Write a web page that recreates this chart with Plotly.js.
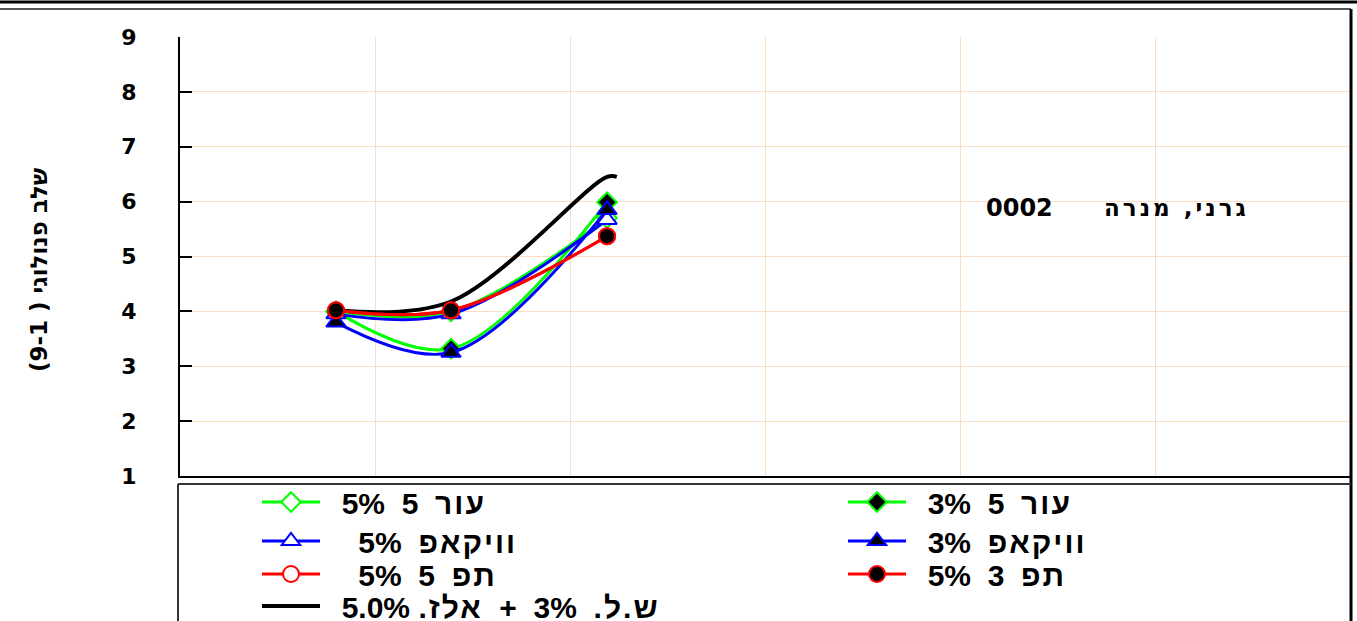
<!DOCTYPE html>
<html>
<head>
<meta charset="utf-8">
<script src="https://cdn.plot.ly/plotly-3.0.1.min.js"></script>
<style>
  html, body { margin: 0; padding: 0; background: #ffffff; }
  #chart { width: 1357px; height: 621px; }
</style>
</head>
<body>
<div id="chart"></div>
<script>
// ---- data ----
const samplingX = [0.8, 1.39, 2.19];
const blackX = [0.8, 1.39, 2.19, 2.24];

const green5 = [4.0, 4.0, 5.7];
const green3 = [4.0, 3.32, 5.99];
const blue5 = [3.95, 3.95, 5.67];
const blue3 = [3.8, 3.25, 5.85];
const red5 = [4.02, 4.02, 5.37];
const red3 = [4.02, 4.02, 5.37];
const blackSeries = [4.02, 4.18, 6.45, 6.45];

const yTicks = [1, 2, 3, 4, 5, 6, 7, 8, 9];

const NB = '\u00A0';
const heb = w => '<span style="letter-spacing:2px">' + w + '</span>';
const labels = {
  green5: NB + NB + '5%' + NB + NB + '5' + NB + NB + heb('עור'),
  green3: NB + NB + '3%' + NB + NB + '5' + NB + NB + heb('עור'),
  blue5: NB + NB + NB + NB + '5%' + NB + NB + heb('וויקאפ'),
  blue3: NB + NB + '3%' + NB + NB + heb('וויקאפ'),
  red5: NB + NB + NB + NB + '5%' + NB + NB + '5' + NB + NB + heb('תפ'),
  red3: NB + NB + '5%' + NB + NB + '3' + NB + NB + heb('תפ'),
  black: NB + NB + '5.0%' + NB + heb('אלז.') + '\u200F\u200E' + NB + NB + '+' + NB + NB + '3%' + NB + NB + heb('ש.ל.') + '\u200F'
};
const yTitle = '(9-1 ) שלב פנולוגי';
const noteNumber = '0002';
const notePlace = 'גרני, מנרה';

// ---- traces ----
const GREEN = '#00ff00', BLUE = '#0000ff', RED = '#ff0000';
function tr(y, x, name, color, symbol, fill, legend, msize) {
  const t = {
    x: x, y: y, name: name, type: 'scatter', mode: symbol ? 'lines+markers' : 'lines',
    line: { color: color, width: symbol ? 3 : 4, shape: 'spline', smoothing: 1 },
    legend: legend, showlegend: true, hoverinfo: 'x+y'
  };
  if (symbol) t.marker = { symbol: symbol, size: msize, color: fill, line: { color: color, width: 2 } };
  return t;
}
const data = [
  tr(green5, samplingX, labels.green5, GREEN, 'diamond', '#ffffff', 'legend', 15),
  tr(green3, samplingX, labels.green3, GREEN, 'diamond', '#000000', 'legend2', 15),
  tr(blue5, samplingX, labels.blue5, BLUE, 'triangle-up', '#ffffff', 'legend3', 17),
  tr(blue3, samplingX, labels.blue3, BLUE, 'triangle-up', '#000000', 'legend4', 17),
  tr(blackSeries, blackX, labels.black, '#000000', null, null, 'legend7', 0),
  tr(red5, samplingX, labels.red5, RED, 'circle', '#ffffff', 'legend5', 16),
  tr(red3, samplingX, labels.red3, RED, 'circle', '#000000', 'legend6', 16)
];

// ---- layout helpers (pixel -> paper) ----
const L = 180, R = 1350, T = 37, B = 476;
const px = X => (X - L) / (R - L);
const py = Y => (B - Y) / (B - T);

const legFont = { family: 'Liberation Sans, Arial, sans-serif', size: 30, color: '#000000', weight: 'bold' };
function leg(xl, yc) {
  return {
    orientation: 'v', x: px(xl), xanchor: 'left', y: py(yc), yanchor: 'middle',
    itemwidth: 58, font: legFont, bgcolor: 'rgba(0,0,0,0)', borderwidth: 0,
    itemclick: false, itemdoubleclick: false
  };
}

const layout = {
  width: 1357, height: 621,
  margin: { l: L, r: 1357 - R, t: T, b: 621 - B, pad: 0, autoexpand: false },
  paper_bgcolor: '#ffffff', plot_bgcolor: '#ffffff',
  showlegend: true,
  xaxis: {
    range: [0, 6], dtick: 1, tick0: 0, showticklabels: false, ticks: '',
    showgrid: true, gridcolor: '#fbdcc0', gridwidth: 1,
    showline: true, linecolor: '#000000', linewidth: 2, zeroline: false, fixedrange: true
  },
  yaxis: {
    range: [1, 9], tickvals: yTicks, ticktext: yTicks.map(String),
    ticks: 'inside', ticklen: 12, tickwidth: 2, tickcolor: '#000000',
    ticklabelstandoff: 37,
    tickfont: { family: 'DejaVu Sans, Verdana, sans-serif', size: 22, color: '#000000', weight: 'bold' },
    showgrid: true, gridcolor: '#fbdcc0', gridwidth: 1,
    showline: true, linecolor: '#000000', linewidth: 2, zeroline: false, fixedrange: true
  },
  legend: leg(257, 502),
  legend2: leg(843, 502),
  legend3: leg(257, 541),
  legend4: leg(843, 541),
  legend5: leg(257, 574),
  legend6: leg(843, 574),
  legend7: leg(257, 606),
  annotations: [
    {
      xref: 'paper', yref: 'paper', x: px(39), y: py(270), xanchor: 'center', yanchor: 'middle',
      text: yTitle, textangle: -90, showarrow: false,
      font: { family: 'DejaVu Sans, sans-serif', size: 23, color: '#000000', weight: 'bold' }
    },
    {
      xref: 'paper', yref: 'paper', x: px(984), y: py(208), xanchor: 'left', yanchor: 'middle',
      text: noteNumber, showarrow: false,
      font: { family: 'DejaVu Sans, sans-serif', size: 24, color: '#000000', weight: 'bold' }
    },
    {
      xref: 'paper', yref: 'paper', x: px(1251), y: py(208), xanchor: 'right', yanchor: 'middle',
      text: '<span style="letter-spacing:3px">' + notePlace + '</span>', showarrow: false,
      font: { family: 'DejaVu Sans, sans-serif', size: 23, color: '#000000', weight: 'bold' }
    }
  ],
  shapes: [
    { type: 'line', xref: 'paper', yref: 'paper', x0: px(0), x1: px(1357), y0: py(2), y1: py(2), line: { color: '#000000', width: 3 } },
    { type: 'line', xref: 'paper', yref: 'paper', x0: px(0), x1: px(1351), y0: py(9), y1: py(9), line: { color: '#555555', width: 2 } },
    { type: 'line', xref: 'paper', yref: 'paper', x0: px(1351), x1: px(1351), y0: py(9), y1: py(621), line: { color: '#000000', width: 3 } },
    { type: 'line', xref: 'paper', yref: 'paper', x0: px(178), x1: px(1351), y0: py(484), y1: py(484), line: { color: '#333333', width: 2 } },
    { type: 'line', xref: 'paper', yref: 'paper', x0: px(178), x1: px(178), y0: py(484), y1: py(621), line: { color: '#333333', width: 2 } }
  ]
};

Plotly.newPlot('chart', data, layout, { displayModeBar: false, staticPlot: true });
</script>
</body>
</html>
